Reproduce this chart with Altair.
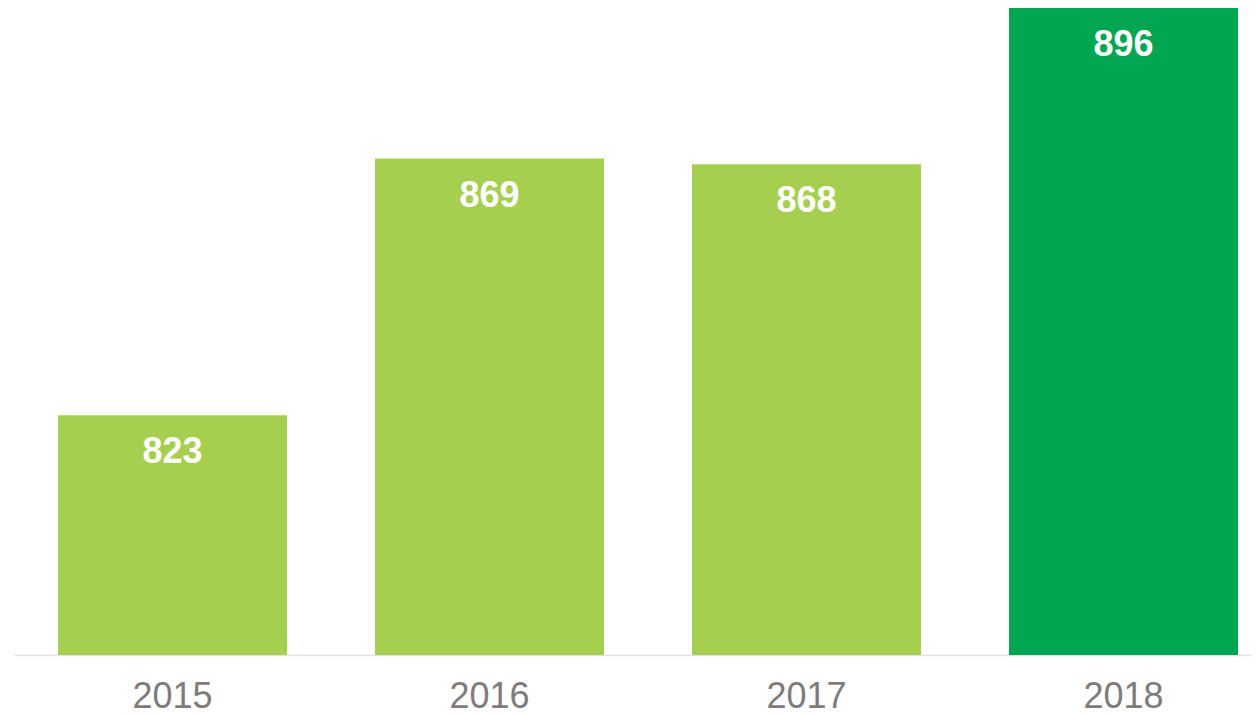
import altair as alt
import pandas as pd

years = ["2015", "2016", "2017", "2018"]
values = [823, 869, 868, 896]
colors = ["#A7CF4F", "#A7CF4F", "#A7CF4F", "#00A651"]

df = pd.DataFrame({"year": years, "value": values, "color": colors})

base = alt.Chart(df).encode(
    x=alt.X(
        "year:N",
        sort=years,
        scale=alt.Scale(paddingInner=0.2776, paddingOuter=0.0915, align=0.7586),
        axis=alt.Axis(
            title=None,
            ticks=False,
            labelAngle=0,
            labelFontSize=36,
            labelFont="Liberation Sans",
            labelColor="#7F7B7B",
            labelBaseline="alphabetic",
            labelPadding=52,
            domainColor="#E3E3E3",
            domainWidth=1.5,
        ),
    )
)

bars = base.mark_bar().encode(
    y=alt.Y("value:Q", scale=alt.Scale(domain=[780, 896], zero=False, nice=False), axis=None),
    y2=alt.datum(780),
    color=alt.Color("color:N", scale=None),
)

labels = base.mark_text(
    font="Liberation Sans",
    fontSize=36,
    fontWeight="bold",
    color="white",
    baseline="alphabetic",
    dy=48,
).encode(
    y=alt.Y("value:Q"),
    text=alt.Text("value:Q"),
)

chart = (
    alt.layer(bars, labels)
    .properties(
        width=1238,
        height=647,
        autosize=alt.AutoSizeParams(type="none"),
        padding={"left": 6, "top": 0, "right": 0, "bottom": 53},
    )
    .configure_view(stroke=None)
)

chart.save("out.html", embed_options={"renderer": "svg", "actions": False})
